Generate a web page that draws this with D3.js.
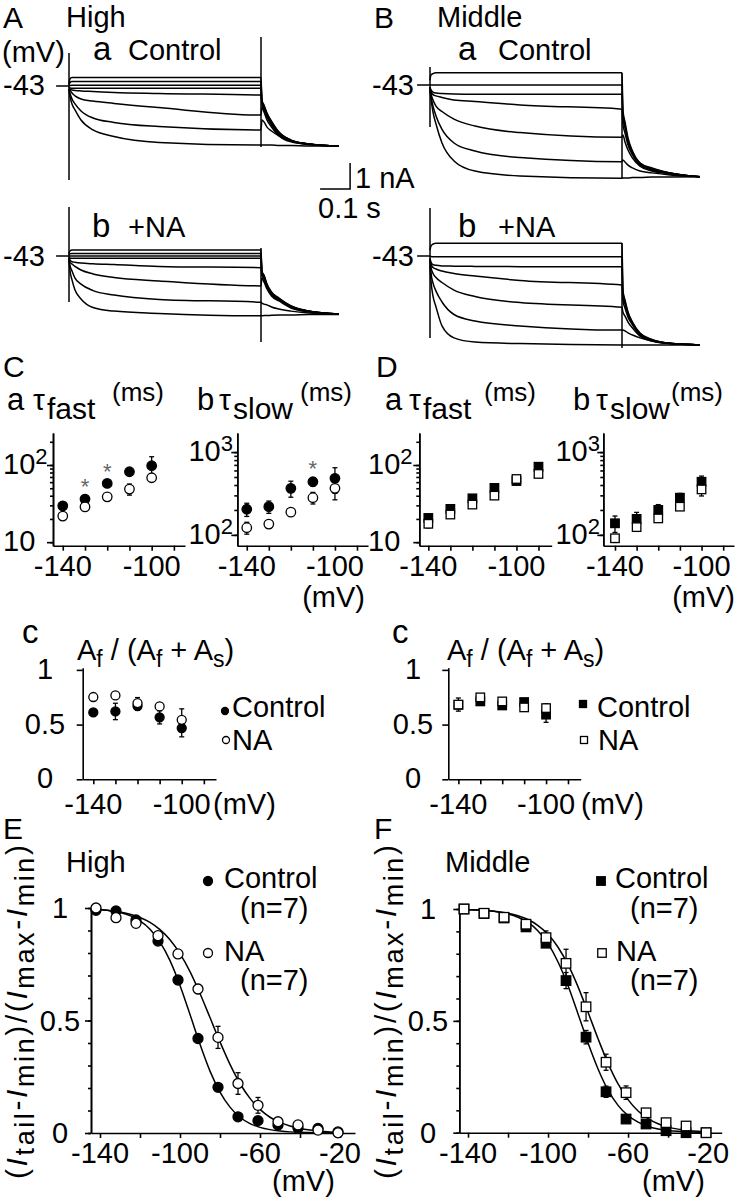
<!DOCTYPE html>
<html>
<head>
<meta charset="utf-8">
<script src="https://cdn.jsdelivr.net/npm/d3@7"></script>
<style>
  body { margin: 0; background: #fff; }
  svg { display: block; font-family: "Liberation Sans", Arial, Helvetica, sans-serif; }
  text { fill: #000; white-space: pre; }
  .trace { fill: none; stroke: #000; stroke-width: 1.5; }
  .axis path, .axis line { stroke: #000; stroke-width: 1.6; }
  .fit { fill: none; stroke: #000; stroke-width: 1.5; }
  .err { stroke: #000; stroke-width: 1.3; }
</style>
</head>
<body>
<svg id="fig" width="739" height="1199"></svg>
<script>
// current traces: t in ms, current in nA (relative to holding current)
var stepT = [0, 3, 10, 20, 40, 80, 150, 300, 640];
var tailT = [643, 650, 660, 675, 700, 740, 800, 900];

var highControlStep = [
  [0.08, 0.27, 0.33, 0.33, 0.33, 0.33, 0.33, 0.33, 0.33],
  [0.04, 0.13, 0.17, 0.17, 0.17, 0.17, 0.17, 0.17, 0.17],
  [0, 0.02, 0.03, 0.03, 0.03, 0.03, 0.03, 0.03, 0.03],
  [-0.04, -0.07, -0.09, -0.09, -0.09, -0.09, -0.09, -0.09, -0.09],
  [-0.12, -0.13, -0.15, -0.17, -0.19, -0.21, -0.25, -0.29, -0.35],
  [-0.08, -0.15, -0.27, -0.38, -0.5, -0.58, -0.67, -0.83, -1.12],
  [-0.12, -0.27, -0.5, -0.69, -0.96, -1.23, -1.4, -1.56, -1.69],
  [-0.15, -0.38, -0.69, -0.92, -1.31, -1.69, -1.94, -2.17, -2.27]
];
var highControlTail = [
  [-0.54, -0.73, -1.04, -1.35, -1.77, -2.08, -2.23, -2.31],
  [-0.58, -0.77, -1.08, -1.38, -1.79, -2.08, -2.23, -2.31],
  [-0.62, -0.81, -1.12, -1.42, -1.81, -2.1, -2.23, -2.31],
  [-0.65, -0.85, -1.15, -1.46, -1.85, -2.1, -2.23, -2.31],
  [-0.69, -0.88, -1.19, -1.5, -1.88, -2.12, -2.25, -2.31],
  [-0.81, -1.0, -1.31, -1.58, -1.92, -2.15, -2.25, -2.31],
  [-1.31, -1.38, -1.58, -1.73, -1.92, -2.12, -2.23, -2.31],
  [-2.27, -2.27, -2.27, -2.27, -2.29, -2.29, -2.31, -2.31]
];
var highControlCap = [1.27, -3.62, 1.88, -2.35];

var highNAStep = [
  [0.08, 0.19, 0.23, 0.23, 0.23, 0.23, 0.23, 0.23, 0.23],
  [0.04, 0.08, 0.1, 0.1, 0.1, 0.1, 0.1, 0.1, 0.1],
  [0, 0, 0, 0, 0, 0, 0, 0, 0],
  [-0.04, -0.08, -0.09, -0.09, -0.09, -0.09, -0.09, -0.09, -0.09],
  [-0.08, -0.15, -0.22, -0.24, -0.27, -0.3, -0.33, -0.4, -0.45],
  [-0.08, -0.23, -0.31, -0.4, -0.54, -0.69, -0.83, -0.96, -1.15],
  [-0.12, -0.35, -0.58, -0.85, -1.08, -1.33, -1.5, -1.67, -1.78],
  [-0.15, -0.54, -0.92, -1.31, -1.65, -1.98, -2.12, -2.21, -2.3]
];
var highNATail = [
  [-0.58, -0.73, -1.08, -1.38, -1.62, -1.92, -2.12, -2.23],
  [-0.62, -0.77, -1.12, -1.42, -1.65, -1.92, -2.12, -2.23],
  [-0.65, -0.81, -1.15, -1.42, -1.65, -1.96, -2.12, -2.23],
  [-0.69, -0.85, -1.15, -1.46, -1.69, -1.96, -2.12, -2.23],
  [-0.73, -0.88, -1.19, -1.46, -1.69, -1.96, -2.12, -2.23],
  [-0.85, -1.0, -1.27, -1.54, -1.73, -2.0, -2.15, -2.23],
  [-1.81, -1.85, -1.88, -1.96, -2.04, -2.12, -2.19, -2.23],
  [-2.3, -2.29, -2.29, -2.28, -2.27, -2.27, -2.25, -2.25]
];
var highNACap = [1.88, -1.77, 0.31, -3.31];

var midControlStep = [
  [0.19, 0.38, 0.44, 0.47, 0.47, 0.47, 0.47, 0.47, 0.47],
  [0, 0, 0, 0, 0, 0, 0, 0, 0],
  [-0.08, -0.19, -0.27, -0.31, -0.33, -0.35, -0.36, -0.36, -0.36],
  [-0.08, -0.23, -0.37, -0.42, -0.48, -0.58, -0.63, -0.77, -0.93],
  [-0.08, -0.31, -0.58, -0.81, -1.02, -1.31, -1.58, -1.83, -2.01],
  [-0.15, -0.42, -0.81, -1.19, -1.71, -2.23, -2.54, -2.79, -2.95],
  [-0.19, -0.5, -1.04, -1.5, -2.23, -2.92, -3.31, -3.5, -3.59]
];
var midControlTail = [
  [-0.96, -1.42, -2.04, -2.54, -3.0, -3.19, -3.38, -3.53],
  [-1.12, -1.54, -2.12, -2.58, -3.0, -3.23, -3.38, -3.53],
  [-1.27, -1.65, -2.19, -2.62, -3.04, -3.23, -3.38, -3.53],
  [-1.5, -1.85, -2.31, -2.69, -3.08, -3.27, -3.4, -3.53],
  [-1.92, -2.19, -2.5, -2.81, -3.12, -3.31, -3.42, -3.53],
  [-2.88, -2.96, -3.08, -3.19, -3.31, -3.38, -3.46, -3.53],
  [-3.58, -3.58, -3.58, -3.56, -3.56, -3.54, -3.54, -3.53]
];
var midControlCap = [0.69, -1.62, 0.46, -3.58];

var midNAStep = [
  [0.23, 0.38, 0.46, 0.49, 0.49, 0.49, 0.49, 0.49, 0.49],
  [0, -0.02, -0.03, -0.03, -0.03, -0.03, -0.03, -0.03, -0.03],
  [-0.08, -0.23, -0.33, -0.36, -0.38, -0.39, -0.4, -0.41, -0.41],
  [-0.12, -0.31, -0.44, -0.5, -0.58, -0.67, -0.77, -0.94, -1.12],
  [-0.15, -0.42, -0.67, -0.83, -1.02, -1.31, -1.56, -1.79, -1.97],
  [-0.19, -0.62, -1.04, -1.35, -1.77, -2.25, -2.5, -2.69, -2.85],
  [-0.35, -0.92, -1.54, -1.96, -2.69, -3.15, -3.31, -3.37, -3.42]
];
var midNATail = [
  [-1.31, -1.69, -2.15, -2.54, -2.96, -3.21, -3.36, -3.42],
  [-1.42, -1.77, -2.19, -2.58, -2.98, -3.23, -3.36, -3.42],
  [-1.54, -1.85, -2.23, -2.62, -3.0, -3.23, -3.36, -3.42],
  [-1.73, -2.0, -2.35, -2.65, -3.04, -3.25, -3.37, -3.42],
  [-2.15, -2.31, -2.54, -2.77, -3.08, -3.27, -3.37, -3.42],
  [-2.85, -2.88, -2.96, -3.04, -3.15, -3.27, -3.37, -3.42],
  [-3.42, -3.42, -3.42, -3.42, -3.42, -3.42, -3.42, -3.42]
];
var midNACap = [1.85, -3.15, 0.5, -3.54];

// time constants (ms) and their SEM
var tauVoltHigh = [-140, -130, -120, -110, -100];
var tauFastHighControl = [29.6, 36.2, 57.8, 81.8, 98];
var tauFastHighControlErr = [3, 4, 6, 6, 30];
var tauFastHighNA = [21.8, 28.7, 38.7, 48.7, 68.4];
var tauFastHighNAErr = [2, 2, 3, 8, 6];
var tauSlowHighControl = [204, 219, 365, 438, 482];
var tauSlowHighControlErr = [37, 37, 80, 50, 165];
var tauSlowHighNA = [122, 135, 188, 281, 365];
var tauSlowHighNAErr = [20, 15, 15, 45, 100];
var starFastHigh = [-130, -120];
var starSlowHigh = [-110];

var tauFastVoltMid = [-140, -130, -120, -110, -100, -90];
var tauFastMidControl = [20.6, 27, 37, 50.5, 62, 95];
var tauFastMidControlErr = [2, 2, 3, 3, 4, 8];
var tauFastMidNA = [17.3, 22.8, 30.7, 40.1, 65.9, 76.6];
var tauFastMidNAErr = [2, 2, 2, 3, 4, 5];
var tauSlowVoltMid = [-140, -130, -120, -110, -100];
var tauSlowMidControl = [138, 156, 200, 281, 438];
var tauSlowMidControlErr = [31, 31, 32, 36, 75];
var tauSlowMidNA = [91, 124, 158, 219, 354];
var tauSlowMidNAErr = [10, 10, 10, 15, 59];

// fast amplitude fraction
var ampVolt = [-140, -130, -120, -110, -100];
var ampHighControl = [0.611, 0.62, 0.67, 0.566, 0.468];
var ampHighControlErr = [0.03, 0.075, 0.04, 0.06, 0.08];
var ampHighNA = [0.752, 0.767, 0.697, 0.666, 0.544];
var ampHighNAErr = [0.03, 0.03, 0.05, 0.03, 0.1];
var ampMidControl = [0.68, 0.712, 0.675, 0.706, 0.591];
var ampMidControlErr = [0.03, 0.03, 0.03, 0.03, 0.07];
var ampMidNA = [0.683, 0.749, 0.712, 0.657, 0.651];
var ampMidNAErr = [0.06, 0.03, 0.03, 0.03, 0.04];

// activation (normalised tail current)
var actVolt = [-142, -132, -122, -111, -101, -91, -81, -71, -61, -51, -41, -31, -21];
var actHighControl = [0.99, 0.987, 0.947, 0.853, 0.68, 0.42, 0.203, 0.072, 0.055, 0.035, 0.022, 0.02, 0.005];
var actHighControlErr = [0, 0, 0, 0, 0.01, 0.015, 0.015, 0.01, 0.01, 0, 0, 0, 0];
var actHighNA = [1.0, 0.957, 0.932, 0.877, 0.796, 0.64, 0.425, 0.22, 0.123, 0.05, 0.036, 0.013, 0.001];
var actHighNAErr = [0, 0, 0, 0, 0.01, 0.02, 0.049, 0.048, 0.035, 0.01, 0.005, 0.005, 0];
var actMidControl = [1.0, 0.98, 0.96, 0.92, 0.847, 0.68, 0.427, 0.183, 0.061, 0.039, 0.009, 0.0, 0.0];
var actMidControlErr = [0, 0, 0, 0, 0.01, 0.036, 0.03, 0.025, 0.01, 0, 0, 0, 0];
var actMidNA = [1.0, 0.981, 0.963, 0.932, 0.872, 0.757, 0.563, 0.315, 0.179, 0.089, 0.045, 0.03, 0.0];
var actMidNAErr = [0, 0, 0, 0, 0.03, 0.063, 0.063, 0.036, 0.03, 0.01, 0, 0, 0];

// fitted curves
var fitVolt = [-142, -135, -130, -125, -120, -115, -110, -105, -100, -95, -90, -85, -80, -75, -70, -65, -60, -55, -50, -45, -40, -35, -30, -25, -21];
var fitHighControl = [0.994, 0.988, 0.98, 0.966, 0.943, 0.906, 0.848, 0.766, 0.656, 0.527, 0.394, 0.275, 0.182, 0.115, 0.07, 0.042, 0.025, 0.015, 0.009, 0.005, 0.003, 0.002, 0.001, 0.001, 0];
var fitHighNA = [0.994, 0.988, 0.982, 0.972, 0.958, 0.936, 0.904, 0.859, 0.797, 0.717, 0.62, 0.513, 0.405, 0.305, 0.22, 0.154, 0.105, 0.07, 0.047, 0.031, 0.02, 0.013, 0.008, 0.005, 0.003];
var fitMidControl = [0.998, 0.995, 0.992, 0.987, 0.978, 0.963, 0.94, 0.902, 0.845, 0.763, 0.657, 0.531, 0.401, 0.285, 0.19, 0.122, 0.076, 0.047, 0.028, 0.017, 0.01, 0.006, 0.004, 0.002, 0.001];
var fitMidNA = [0.998, 0.995, 0.993, 0.988, 0.981, 0.97, 0.953, 0.926, 0.887, 0.829, 0.751, 0.652, 0.538, 0.42, 0.31, 0.218, 0.148, 0.097, 0.063, 0.04, 0.025, 0.016, 0.01, 0.006, 0.004];

var svg = d3.select("#fig");

function translate(x, y) { return "translate(" + x + "," + y + ")"; }

// text made of runs; sub = px shift downward (negative = raised)
richText = function(g, x, y, parts, size, anchor) {
  var t = g.append("text").attr("x", x).attr("y", y)
    .attr("font-size", size).attr("text-anchor", anchor || "start");
  var shift = 0;
  parts.forEach(function(p) {
    var s = t.append("tspan").text(p.t);
    var want = p.sub || 0;
    s.attr("dy", want - shift);
    shift = want;
    if (p.size) s.attr("font-size", p.size);
    if (p.italic) s.attr("font-style", "italic");
  });
  return t;
}

label = function(x, y, str, size, anchor) {
  return svg.append("text").attr("x", x).attr("y", y)
    .attr("font-size", size).attr("text-anchor", anchor || "start").text(str);
}

drawTraces = function(p) {
  var x = d3.scaleLinear().domain([0, 640]).range([p.x0, p.x0 + 192]);
  var y = d3.scaleLinear().domain([0, -1]).range([p.yh, p.yh + 26]);
  var g = svg.append("g");
  var line = d3.line()
    .x(function(d) { return x(d[0]); })
    .y(function(d) { return y(d[1]); })
    .curve(d3.curveMonotoneX);

  g.append("line").attr("class", "trace")
    .attr("x1", x(-43)).attr("x2", x(0)).attr("y1", y(0)).attr("y2", y(0));

  p.step.forEach(function(s, i) {
    var pts = stepT.map(function(t, j) { return [t, s[j]]; })
      .concat(tailT.map(function(t, j) { return [t, p.tail[i][j]]; }));
    g.append("path").attr("class", "trace").attr("d", line(pts));
  });

  // capacitive transients at step on / off
  g.append("line").attr("class", "trace")
    .attr("x1", x(0)).attr("x2", x(0)).attr("y1", y(p.cap[0])).attr("y2", y(p.cap[1]));
  g.append("line").attr("class", "trace")
    .attr("x1", x(640)).attr("x2", x(640)).attr("y1", y(p.cap[2])).attr("y2", y(p.cap[3]));
  return {x: x, y: y};
}

drawAxes = function(x, y, o) {
  var g = svg.append("g");
  g.append("g").attr("class", "axis")
    .attr("transform", translate(0, y.range()[0]))
    .call(d3.axisBottom(x).tickValues(o.xTicks).tickSize(5).tickSizeOuter(0).tickFormat(""));
  g.append("g").attr("class", "axis")
    .attr("transform", translate(x.range()[0], 0))
    .call(d3.axisLeft(y).tickValues(o.yTicks).tickSize(6).tickSizeOuter(0).tickFormat(""));
  if (o.yMinor) {
    g.append("g").attr("class", "axis")
      .attr("transform", translate(x.range()[0], 0))
      .call(d3.axisLeft(y).tickValues(o.yMinor).tickSize(3).tickSizeOuter(0).tickFormat(""));
  }
  // x tick labels
  o.xLabels.forEach(function(v) {
    label(x(v), o.xLabelY, String(v), 29, "middle");
  });
  return g;
}

drawErr = function(x, y, volt, val, err, lowFloor) {
  var g = svg.append("g");
  volt.forEach(function(v, i) {
    if (!err[i]) return;
    var lo = val[i] - err[i];
    if (lowFloor !== undefined && lo < lowFloor) lo = lowFloor;
    var hi = val[i] + err[i];
    var xc = x(v);
    g.append("line").attr("class", "err").attr("x1", xc).attr("x2", xc).attr("y1", y(lo)).attr("y2", y(hi));
    g.append("line").attr("class", "err").attr("x1", xc - 2.5).attr("x2", xc + 2.5).attr("y1", y(hi)).attr("y2", y(hi));
    g.append("line").attr("class", "err").attr("x1", xc - 2.5).attr("x2", xc + 2.5).attr("y1", y(lo)).attr("y2", y(lo));
  });
}

drawMarks = function(x, y, volt, val, shape, filled, size) {
  var g = svg.append("g");
  volt.forEach(function(v, i) {
    var m;
    if (shape === "circle") {
      m = g.append("circle").attr("cx", x(v)).attr("cy", y(val[i])).attr("r", size / 2);
    } else {
      m = g.append("rect").attr("x", x(v) - size / 2).attr("y", y(val[i]) - size / 2)
        .attr("width", size).attr("height", size);
    }
    m.attr("fill", filled ? "#000" : "#fff").attr("stroke", "#000").attr("stroke-width", 1.3);
  });
}

legendMark = function(cx, cy, shape, filled, size) {
  drawMarks(function() { return cx; }, function() { return cy; }, [0], [0], shape, filled, size);
}

// ---------------- A / B : current traces ----------------
label(3, 28, "A", 30);
label(66, 27, "High", 29);
label(2, 62, "(mV)", 29);
label(374, 28, "B", 30);
label(437, 27, "Middle", 29);

var sA = drawTraces({x0: 69, yh: 86, step: highControlStep, tail: highControlTail, cap: highControlCap});
drawTraces({x0: 69, yh: 256, step: highNAStep, tail: highNATail, cap: highNACap});
drawTraces({x0: 430, yh: 85, step: midControlStep, tail: midControlTail, cap: midControlCap});
drawTraces({x0: 430, yh: 256, step: midNAStep, tail: midNATail, cap: midNACap});

label(93, 60, "a", 33); label(128, 60, "Control", 29);
label(92, 237, "b", 33); label(128, 237, "+NA", 29);
label(458, 60, "a", 33); label(498, 60, "Control", 29);
label(458, 237, "b", 33); label(498, 237, "+NA", 29);
label(3, 95, "-43", 29); label(3, 266, "-43", 29);
label(372, 95, "-43", 29); label(372, 266, "-43", 29);

// scale bar: 0.1 s, 1 nA
var sbT = 937, sbI = -3.96;
svg.append("path").attr("class", "trace")
  .attr("d", "M" + sA.x(sbT - 100) + "," + sA.y(sbI) + "H" + sA.x(sbT) + "V" + sA.y(sbI + 1));
label(355, 188, "1 nA", 29);
label(318, 218, "0.1 s", 29);

// ---------------- C / D : time constants ----------------
label(3, 377, "C", 30);
label(376, 377, "D", 30);

tauHeader = function(x, letter, xTau, sub, xMs) {
  label(x, 410, letter, 31);
  label(xTau, 410, "\u03c4", 30);
  label(xTau + 14, 419, sub, 30);
  label(xMs, 401, "(ms)", 26);
}
tauHeader(7, "a", 33, "fast", 112);
tauHeader(197, "b", 219, "slow", 300);
tauHeader(385, "a", 409, "fast", 484);
tauHeader(573, "b", 596, "slow", 671);

var decade1 = [10, 20, 30, 40, 50, 60, 70, 80, 90, 100, 200];
var decade2 = [100, 200, 300, 400, 500, 600, 700, 800, 900, 1000];
var voltTicks = [-140, -130, -120, -110, -100, -90];

powLabel = function(x, y, exp, anchor) {
  var parts = [{t: "10"}];
  if (exp) parts.push({t: exp, sub: -10, size: 22});
  richText(svg, x, y, parts, 29, anchor);
}

stars = function(x, y, volt, list, val, err) {
  list.forEach(function(v) {
    var i = volt.indexOf(v);
    var top = y(val[i] + err[i]) - 14;
    svg.append("text").attr("x", x(v)).attr("y", top + 12.5)
      .attr("font-size", 22).attr("text-anchor", "middle").style("fill", "#666").text("*");
  });
}

tauPanel = function(xs, ys, volt, ctl, ctlErr, na, naErr, shape, size) {
  drawErr(xs, ys, volt, ctl, ctlErr, ys.domain()[0]);
  drawErr(xs, ys, volt, na, naErr, ys.domain()[0]);
  drawMarks(xs, ys, volt, ctl, shape, true, size);
  drawMarks(xs, ys, volt, na, shape, false, size);
}

// C a
var xCa = d3.scaleLinear().domain([-144.4, -85]).range([53, 185]);
var yCa = d3.scaleLog().domain([9, 260]).range([545.7, 433]);
drawAxes(xCa, yCa, {xTicks: voltTicks, yTicks: [10, 100], yMinor: decade1, xLabels: [-140, -100], xLabelY: 576});
powLabel(3, yCa(100) + 9, "2", "start");
powLabel(3, yCa(10) + 9, null, "start");
tauPanel(xCa, yCa, tauVoltHigh, tauFastHighControl, tauFastHighControlErr, tauFastHighNA, tauFastHighNAErr, "circle", 9.5);
stars(xCa, yCa, tauVoltHigh, starFastHigh, tauFastHighControl, tauFastHighControlErr);

// C b
var xCb = d3.scaleLinear().domain([-144.3, -85]).range([237.3, 368]);
var yCb = d3.scaleLog().domain([74, 1700]).range([545.7, 433]);
drawAxes(xCb, yCb, {xTicks: voltTicks, yTicks: [100, 1000], yMinor: decade2, xLabels: [-140, -100], xLabelY: 576});
powLabel(233, yCb(1000) + 9, "3", "end");
powLabel(233, yCb(100) + 9, "2", "end");
label(365, 607, "(mV)", 29, "end");
tauPanel(xCb, yCb, tauVoltHigh, tauSlowHighControl, tauSlowHighControlErr, tauSlowHighNA, tauSlowHighNAErr, "circle", 9.5);
stars(xCb, yCb, tauVoltHigh, starSlowHigh, tauSlowHighControl, tauSlowHighControlErr);

// D a
var xDa = d3.scaleLinear().domain([-144.1, -84]).range([419.3, 551.7]);
var yDa = d3.scaleLog().domain([9, 260]).range([545.7, 433]);
drawAxes(xDa, yDa, {xTicks: voltTicks, yTicks: [10, 100], yMinor: decade1, xLabels: [-140, -100], xLabelY: 576});
powLabel(368, yDa(100) + 9, "2", "start");
powLabel(368, yDa(10) + 9, null, "start");
tauPanel(xDa, yDa, tauFastVoltMid, tauFastMidControl, tauFastMidControlErr, tauFastMidNA, tauFastMidNAErr, "square", 8.5);

// D b
var xDb = d3.scaleLinear().domain([-145.4, -85]).range([603.3, 734]);
var yDb = d3.scaleLog().domain([74, 1700]).range([545.7, 433]);
drawAxes(xDb, yDb, {xTicks: voltTicks, yTicks: [100, 1000], yMinor: decade2, xLabels: [-140, -100], xLabelY: 576});
powLabel(600, yDb(1000) + 9, "3", "end");
powLabel(600, yDb(100) + 9, "2", "end");
label(735, 607, "(mV)", 29, "end");
tauPanel(xDb, yDb, tauSlowVoltMid, tauSlowMidControl, tauSlowMidControlErr, tauSlowMidNA, tauSlowMidNAErr, "square", 8.5);

// ---------------- C c / D c : amplitude ratio ----------------
ampHeader = function(xc, xa) {
  label(xc, 643, "c", 33);
  richText(svg, xa, 660, [
    {t: "A"}, {t: "f", sub: 7, size: 23}, {t: " / (A"}, {t: "f", sub: 7, size: 23},
    {t: " + A"}, {t: "s", sub: 7, size: 23}, {t: ")"}
  ], 29);
}
ampHeader(22, 77);
ampHeader(392, 447);

ampPanel = function(xs, ys, ctl, ctlErr, na, naErr, shape, size, labelX) {
  drawAxes(xs, ys, {xTicks: voltTicks, yTicks: [0, 0.5, 1], xLabels: [-140, -100], xLabelY: 814});
  [0, 0.5, 1].forEach(function(v) { label(labelX, ys(v) + 9, String(v), 29, "middle"); });
  drawErr(xs, ys, ampVolt, ctl, ctlErr);
  drawErr(xs, ys, ampVolt, na, naErr);
  drawMarks(xs, ys, ampVolt, ctl, shape, true, size);
  drawMarks(xs, ys, ampVolt, na, shape, false, size);
}

var xCc = d3.scaleLinear().domain([-144.8, -84.5]).range([82.7, 216]);
var yCc = d3.scaleLinear().domain([0, 1.02]).range([779.3, 667.7]);
ampPanel(xCc, yCc, ampHighControl, ampHighControlErr, ampHighNA, ampHighNAErr, "circle", 9, 45);
label(213, 814, "(mV)", 29);
legendMark(225, 711, "circle", true, 7);
label(232, 717, "Control", 29);
legendMark(226, 740, "circle", false, 7);
label(232, 750, "NA", 29);

var xDc = d3.scaleLinear().domain([-144.6, -84.2]).range([448.3, 580.7]);
var yDc = d3.scaleLinear().domain([0, 1.02]).range([779.3, 667.7]);
ampPanel(xDc, yDc, ampMidControl, ampMidControlErr, ampMidNA, ampMidNAErr, "square", 8.5, 413);
label(581, 814, "(mV)", 29);
legendMark(583, 704, "square", true, 7);
label(597, 717, "Control", 29);
legendMark(584, 740, "square", false, 7);
label(598, 750, "NA", 29);

// ---------------- E / F : activation curves ----------------
yLabel = function(x) {
  var t = richText(svg, 0, 0, [
    {t: "("}, {t: "I", italic: true}, {t: "tail", sub: 7, size: 27},
    {t: "-"}, {t: "I", italic: true}, {t: "min", sub: 7, size: 27},
    {t: ")/("}, {t: "I", italic: true}, {t: "max", sub: 7, size: 27},
    {t: "-"}, {t: "I", italic: true}, {t: "min", sub: 7, size: 27}, {t: ")"}
  ], 30, "middle");
  t.attr("textLength", 334).attr("lengthAdjust", "spacing");
  t.attr("transform", translate(x, 1012) + " rotate(-90)");
}

actPanel = function(xs, ys, ctl, ctlErr, na, naErr, fitCtl, fitNA, shape, size, labelX) {
  drawAxes(xs, ys, {
    xTicks: [-140, -120, -100, -80, -60, -40, -20],
    yTicks: [0, 0.5, 1], yMinor: d3.range(0, 1.01, 0.1),
    xLabels: [-140, -100, -60, -20], xLabelY: 1163
  });
  [0, 0.5, 1].forEach(function(v) { label(labelX, ys(v) + 10, String(v), 29, "middle"); });
  var line = d3.line()
    .x(function(d, i) { return xs(fitVolt[i]); })
    .y(function(d) { return ys(d); })
    .curve(d3.curveMonotoneX);
  svg.append("path").attr("class", "fit").attr("d", line(fitCtl));
  svg.append("path").attr("class", "fit").attr("d", line(fitNA));
  drawErr(xs, ys, actVolt, ctl, ctlErr);
  drawErr(xs, ys, actVolt, na, naErr);
  drawMarks(xs, ys, actVolt, ctl, shape, true, size);
  drawMarks(xs, ys, actVolt, na, shape, false, size);
}

label(3, 839, "E", 30);
label(66, 872, "High", 29);
var xE = d3.scaleLinear().domain([-144.5, -12.5]).range([91, 355]);
var yE = d3.scaleLinear().domain([0, 1]).range([1133, 908]);
actPanel(xE, yE, actHighControl, actHighControlErr, actHighNA, actHighNAErr, fitHighControl, fitHighNA, "circle", 10, 60);
yLabel(27);
label(272, 1191, "(mV)", 29);
legendMark(208, 881, "circle", true, 9);
label(224, 888, "Control", 29);
label(240, 918, "(n=7)", 29);
legendMark(208, 953, "circle", false, 9);
label(224, 961, "NA", 29);
label(240, 990, "(n=7)", 29);

label(374, 839, "F", 30);
label(445, 872, "Middle", 29);
var xF = d3.scaleLinear().domain([-144.35, -13.2]).range([459.3, 721.7]);
var yF = d3.scaleLinear().domain([0, 1]).range([1132.7, 909]);
actPanel(xF, yF, actMidControl, actMidControlErr, actMidNA, actMidNAErr, fitMidControl, fitMidNA, "square", 9.5, 428);
yLabel(396);
label(642, 1191, "(mV)", 29);
legendMark(601, 881, "square", true, 8.5);
label(615, 888, "Control", 29);
label(630, 918, "(n=7)", 29);
legendMark(602, 953, "square", false, 8.5);
label(616, 961, "NA", 29);
label(630, 990, "(n=7)", 29);
</script>
</body>
</html>
